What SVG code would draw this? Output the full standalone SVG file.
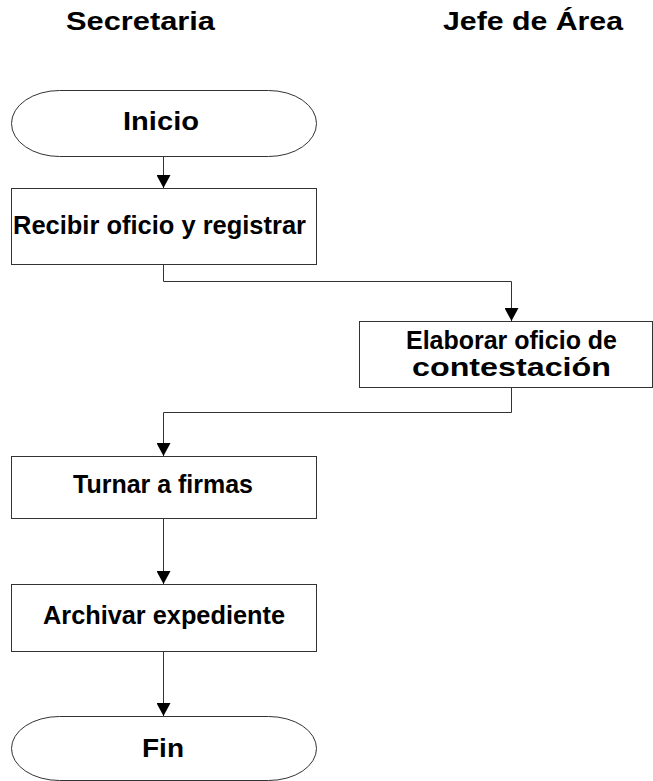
<svg xmlns="http://www.w3.org/2000/svg" width="653" height="781" viewBox="0 0 653 781">
<style>
  .shape { fill: #ffffff; stroke: #333333; stroke-width: 1; }
  .lbl { font-family: "Liberation Sans", Arial, sans-serif; font-weight: bold; font-size: 25px; fill: #000000; }
  .conn { fill: none; stroke: #333333; stroke-width: 1; }
</style>
<defs>
  <marker id="arr" markerWidth="13" markerHeight="14" refX="13" refY="7" orient="auto" markerUnits="userSpaceOnUse" viewBox="0 0 13 14">
    <path d="M0,0 L13,7 L0,14 Z" fill="#000000"/>
  </marker>
</defs>
<rect width="653" height="781" fill="#ffffff"/>
<g id="headers">
  <text class="lbl" x="66" y="30" textLength="149" lengthAdjust="spacingAndGlyphs">Secretaria</text>
  <text class="lbl" x="443" y="30" textLength="180" lengthAdjust="spacingAndGlyphs">Jefe de Área</text>
</g>
<g id="connectors">
  <path class="conn" d="M163.5,156 V188" marker-end="url(#arr)"/>
  <path class="conn" d="M163.5,264 V281.5 H511.5 V321" marker-end="url(#arr)"/>
  <path class="conn" d="M511.5,387 V412.5 H163.5 V456" marker-end="url(#arr)"/>
  <path class="conn" d="M163.5,518 V584" marker-end="url(#arr)"/>
  <path class="conn" d="M163.5,651 V716" marker-end="url(#arr)"/>
</g>
<g id="inicio">
  <rect class="shape" x="11.5" y="90.5" width="305" height="66" rx="48" ry="33"/>
  <text class="lbl" x="123" y="130" textLength="76" lengthAdjust="spacingAndGlyphs">Inicio</text>
</g>
<g id="recibir">
  <rect class="shape" x="11.5" y="188.5" width="305" height="76"/>
  <text class="lbl" x="13" y="234" textLength="293" lengthAdjust="spacingAndGlyphs">Recibir oficio y registrar</text>
</g>
<g id="elaborar">
  <rect class="shape" x="359.5" y="321.5" width="293" height="66"/>
  <text class="lbl" x="406" y="349" textLength="211" lengthAdjust="spacingAndGlyphs">Elaborar oficio de</text>
  <text class="lbl" x="412" y="376" textLength="199" lengthAdjust="spacingAndGlyphs">contestación</text>
</g>
<g id="turnar">
  <rect class="shape" x="11.5" y="456.5" width="305" height="62"/>
  <text class="lbl" x="73" y="493" textLength="180" lengthAdjust="spacingAndGlyphs">Turnar a firmas</text>
</g>
<g id="archivar">
  <rect class="shape" x="11.5" y="584.5" width="305" height="67"/>
  <text class="lbl" x="43" y="624" textLength="242" lengthAdjust="spacingAndGlyphs">Archivar expediente</text>
</g>
<g id="fin">
  <rect class="shape" x="11.5" y="716.5" width="305" height="64" rx="48" ry="32"/>
  <text class="lbl" x="142" y="757" textLength="42" lengthAdjust="spacingAndGlyphs">Fin</text>
</g>
</svg>
